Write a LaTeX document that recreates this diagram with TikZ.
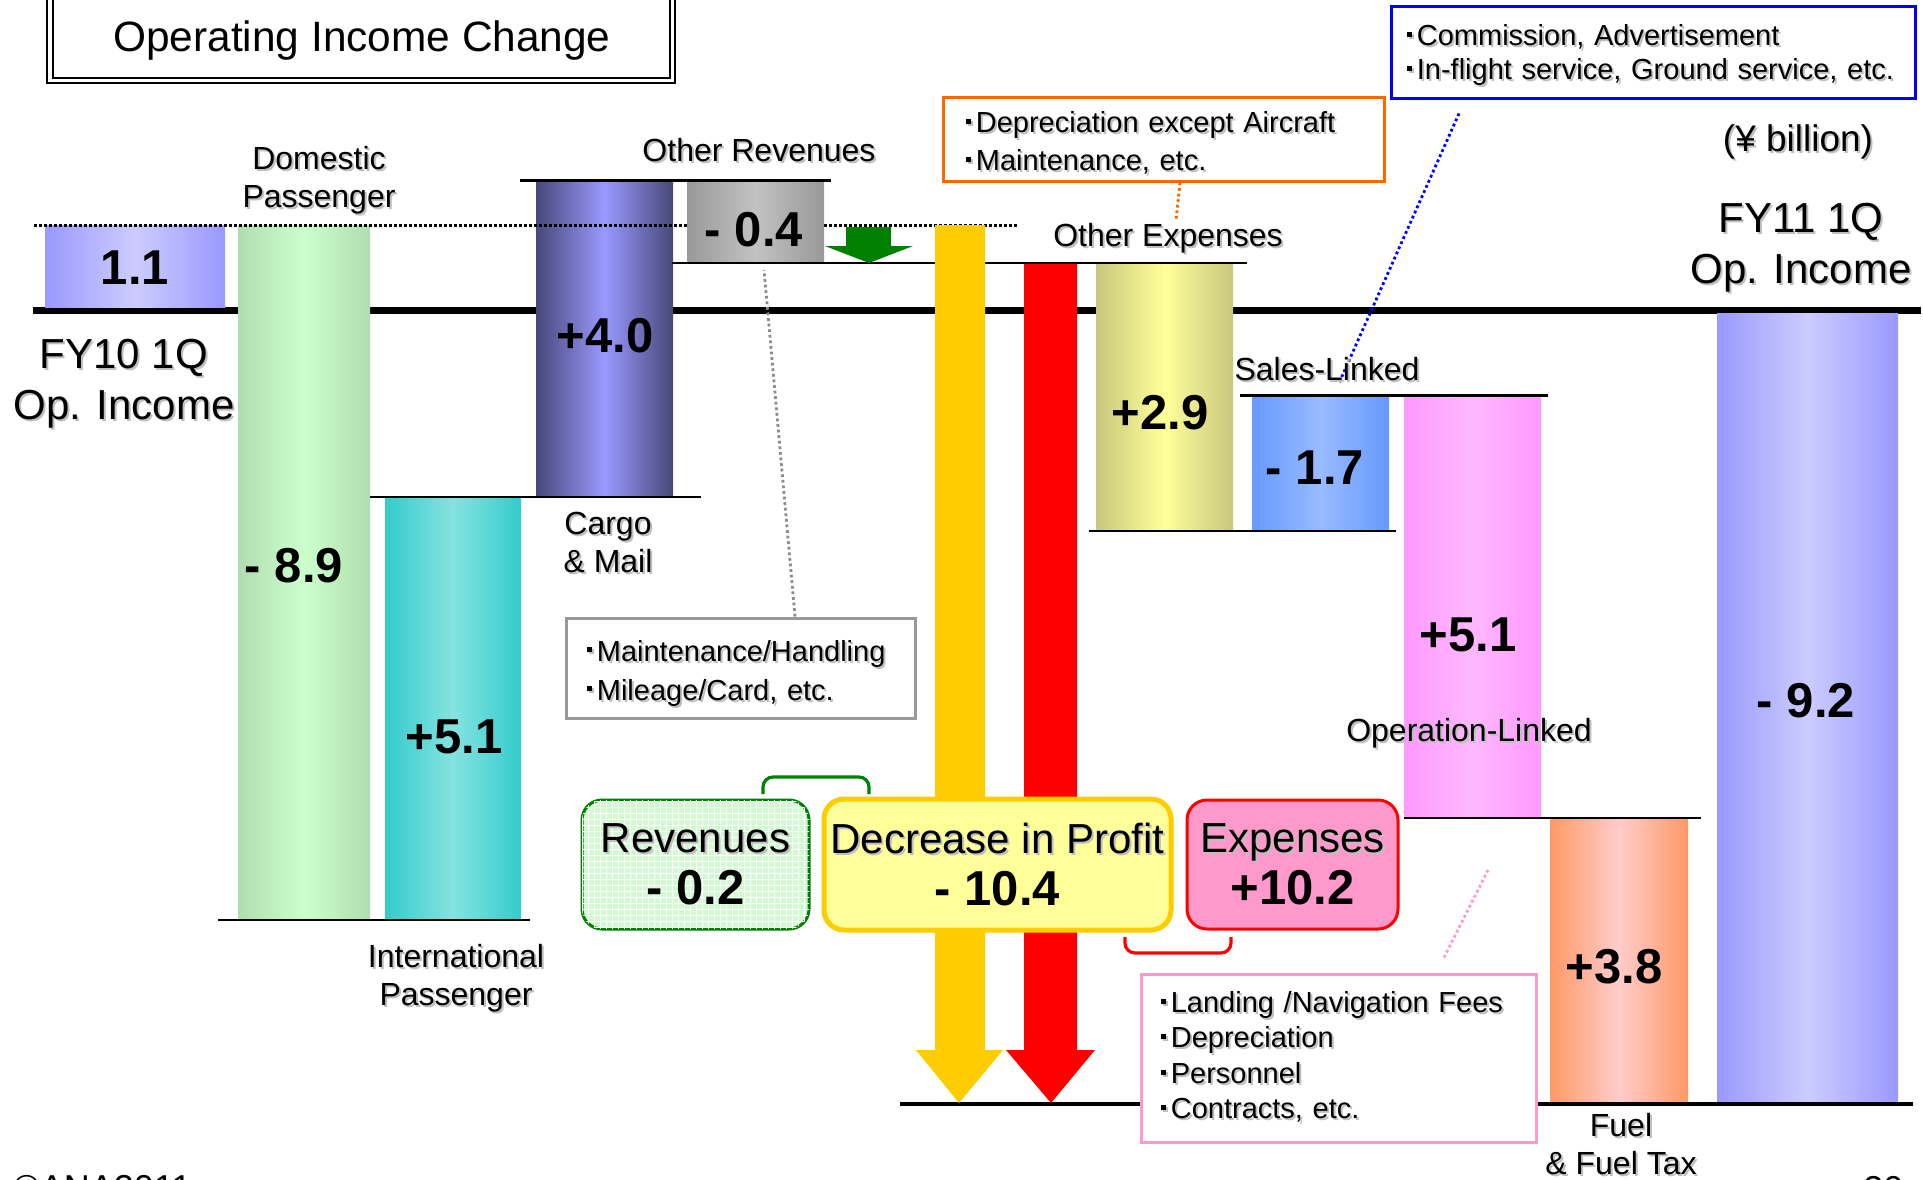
\documentclass[tikz,border=0pt]{standalone}
\usepackage{fontspec}
\setmainfont{Liberation Sans}
\usetikzlibrary{calc,patterns}
\newcommand\sh[1]{\leavevmode\rlap{\hspace{1pt}\raisebox{-1pt}{\textcolor{black!25}{#1}}}#1}
\newcommand\bul{\raisebox{0.3em}{\rule{0.17em}{0.17em}}\hspace{0.17em}}
\definecolor{fyE}{HTML}{9999FF}\definecolor{fyM}{HTML}{CCCCFF}
\definecolor{domE}{HTML}{B0DDB0}\definecolor{domM}{HTML}{CCFFCC}
\definecolor{intE}{HTML}{33CCCC}\definecolor{intM}{HTML}{85E3E0}
\definecolor{carE}{HTML}{48487A}\definecolor{carM}{HTML}{9999FF}
\definecolor{othE}{HTML}{999999}\definecolor{othM}{HTML}{C2C2C2}
\definecolor{oexE}{HTML}{C8C87E}\definecolor{oexM}{HTML}{FFFF99}
\definecolor{salE}{HTML}{6699FF}\definecolor{salM}{HTML}{99BBFF}
\definecolor{opE}{HTML}{FF99FF}\definecolor{opM}{HTML}{FFB8FF}
\definecolor{fuE}{HTML}{FF9966}\definecolor{fuM}{HTML}{FFCCCC}
\definecolor{yel}{HTML}{FFCC00}\definecolor{grn}{HTML}{008000}
\definecolor{orn}{HTML}{FF6600}\definecolor{pnk}{HTML}{FF99CC}
\definecolor{revfill}{HTML}{D2F9D2}\definecolor{decfill}{HTML}{FFFF99}
\begin{document}
\begin{tikzpicture}[x=0.5pt,y=-0.5pt,
  lbltxt/.style={font=\fontsize{16}{19}\selectfont,align=center,inner sep=0pt},
  bigtxt/.style={font=\fontsize{21}{25.5}\selectfont,align=center,inner sep=0pt},
  numtxt/.style={font=\fontsize{24.5}{28}\selectfont\bfseries,inner sep=0pt},
  notebox/.style={draw,line width=1.5pt,fill=white,align=left,inner ysep=0pt,font=\fontsize{14.5}{19}\selectfont},
  sumbox/.style={rounded corners=10pt,align=center,inner sep=0pt,font=\fontsize{21}{26}\selectfont},
  levline/.style={line width=1.25pt},
  conn/.style={line width=1.4pt,dash pattern=on 1.4pt off 1.4pt},
]
\useasboundingbox (0,0) rectangle (1923,1179);
\clip (0,0) rectangle (1923,1179);
\fill[white] (0,0) rectangle (1923,1179);

% title box
\draw[line width=1pt] (47,-10) rectangle (675,83);
\draw[line width=1pt] (53,-10) rectangle (670,78);
\node[font=\fontsize{21.2}{25}\selectfont,inner sep=0pt] (title) at (362,41) {Operating Income Change};

% main axis
\draw[line width=3.25pt] (33,310.5) -- (1921,310.5);

% bars
\shade[left color=fyE,right color=fyE,middle color=fyM] (45,225) rectangle (225,307);
\shade[left color=domE,right color=domE,middle color=domM] (238,225) rectangle (370,920);
\shade[left color=intE,right color=intE,middle color=intM] (385,497) rectangle (521,920);
\shade[left color=carE,right color=carE,middle color=carM] (536,180) rectangle (673,497);

% dotted reference line
\draw[line width=1.5pt,dash pattern=on 1.5pt off 1pt] (34,225.5) -- (1017,225.5);

\shade[left color=othE,right color=othE,middle color=othM] (687,181) rectangle (824,262);
\shade[left color=oexE,right color=oexE,middle color=oexM] (1096,263) rectangle (1233,530);
\shade[left color=salE,right color=salE,middle color=salM] (1252,396) rectangle (1389,530);
\shade[left color=opE,right color=opE,middle color=opM] (1404,396) rectangle (1541,818);
\shade[left color=fuE,right color=fuE,middle color=fuM] (1550,818) rectangle (1688,1104);
\shade[left color=fyE,right color=fyE,middle color=fyM] (1717,313) rectangle (1898,1104);

% level lines
\draw[levline] (218,920) -- (530,920);
\draw[levline] (370,497) -- (701,497);
\draw[levline] (520,180.5) -- (831,180.5);
\draw[levline] (672,263) -- (1247,263);
\draw[levline] (1089,531) -- (1396,531);
\draw[levline] (1240,395.5) -- (1548,395.5);
\draw[levline] (1404,818) -- (1701,818);
\draw[line width=1.7pt] (900,1104) -- (1913,1104);

% arrows
\fill[grn] (846,227) -- (891,227) -- (891,246) -- (913,246) -- (869,263) -- (825,246) -- (846,246) -- cycle;
\fill[yel] (935,225) -- (985,225) -- (985,1050) -- (1003,1050) -- (959,1103) -- (916,1050) -- (935,1050) -- cycle;
\fill[red] (1024,264) -- (1077,264) -- (1077,1050) -- (1095,1050) -- (1051,1103) -- (1006,1050) -- (1024,1050) -- cycle;

% summary boxes
\node[sumbox,draw=grn,line width=1.5pt,fill=revfill,postaction={pattern=grid,pattern color=white},minimum width=113.5pt,minimum height=64.5pt] (rev) at (695.5,864.5)
  {\sh{Revenues}\\{\fontsize{24.5}{28.5}\selectfont\bfseries - 0.2}};
\node[sumbox,draw=yel,line width=2.5pt,fill=decfill,minimum width=173.5pt,minimum height=65.5pt] (dec) at (997.5,864.5)
  {\sh{Decrease in Profit}\\{\fontsize{24.5}{28.5}\selectfont\bfseries - 10.4}};
\node[sumbox,draw=red,line width=1.5pt,fill=pnk,minimum width=105.5pt,minimum height=64.5pt] (exp) at (1292.5,864.5)
  {\sh{Expenses}\\{\fontsize{24.5}{28.5}\selectfont\bfseries +10.2}};

% brackets
\draw[grn,line width=1.6pt,rounded corners=5pt] (763,794) -- (763,777) -- (869,777) -- (869,794);
\draw[red,line width=1.6pt,rounded corners=5pt] (1125,937) -- (1125,953) -- (1231,953) -- (1231,937);

% note boxes
\node[notebox,draw=black!40,minimum width=174.5pt,minimum height=50pt,inner xsep=10.5pt,text width=153.5pt,font=\fontsize{14.5}{19.5}\selectfont] (graybox) at (740.5,668)
  {\rule{0pt}{16.6pt}\sh{\bul Maintenance/Handling}\\\sh{\bul Mileage/Card, etc.}};
\node[notebox,draw=orn,minimum width=220.5pt,minimum height=42pt,inner xsep=11.5pt,text width=197.5pt] (orgbox) at (1163.5,139)
  {\rule{0pt}{15.6pt}\sh{\bul Depreciation except Aircraft}\\\sh{\bul Maintenance, etc.}};
\node[notebox,draw=blue,minimum width=262pt,minimum height=46pt,inner xsep=8pt,text width=246pt,font=\fontsize{14.5}{17}\selectfont] (bluebox) at (1653,52)
  {\rule{0pt}{14.6pt}\sh{\bul Commission, Advertisement}\\\sh{\bul In-flight service, Ground service, etc.}};
\node[notebox,draw=pnk,minimum width=197.5pt,minimum height=84pt,inner xsep=10pt,text width=177.5pt,font=\fontsize{14.5}{17.7}\selectfont] (pinkbox) at (1338.5,1058)
  {\sh{\bul Landing /Navigation Fees}\\\sh{\bul Depreciation}\\\sh{\bul Personnel}\\\sh{\bul Contracts, etc.}};

% connectors
\coordinate (gend) at (764,270);
\coordinate (oend) at (1176,220);
\coordinate (bend) at (1339,383);
\coordinate (pend) at (1489,868);
\draw[conn,black!45] ($(graybox.north)+(54.5,0)$) -- (gend);
\draw[conn,orn] ($(orgbox.south)+(16.5,0)$) -- (oend);
\draw[conn,blue] ($(bluebox.south)+(-194,14)$) -- (bend);
\draw[conn,pnk] ($(pinkbox.north)+(105.5,-15)$) -- (pend);

% labels
\node[bigtxt] (fy10) at (124,385) {\sh{FY10 1Q}\\\sh{Op. Income}};
\node[bigtxt] (fy11) at (1801,249) {\sh{FY11 1Q}\\\sh{Op. Income}};
\node[font=\fontsize{18.5}{22}\selectfont,inner sep=0pt] (unit) at (1798,143) {\sh{(¥ billion)}};
\node[lbltxt] (ldom) at (319,181) {\sh{Domestic}\\\sh{Passenger}};
\node[lbltxt] (lint) at (456,979) {\sh{International}\\\sh{Passenger}};
\node[lbltxt] (lcar) at (608,543) {\sh{Cargo}\\\sh{\& Mail}};
\node[lbltxt] (loth) at (759,151) {\sh{Other Revenues}};
\node[lbltxt] (loex) at (1168,239) {\sh{Other Expenses}};
\node[lbltxt] (lsal) at (1327,370) {\sh{Sales-Linked}};
\node[lbltxt] (lop) at (1469,734) {\sh{Operation-Linked}};
\node[lbltxt] (lfu) at (1621,1145) {\sh{Fuel}\\\sh{\& Fuel Tax}};

% numbers
\node[numtxt] (n1) at (135,268) {1.1};
\node[numtxt] (n2) at (294,566) {- 8.9};
\node[numtxt] (n3) at (454,737) {+5.1};
\node[numtxt] (n4) at (605,336) {+4.0};
\node[numtxt] (n5) at (754,230) {- 0.4};
\node[numtxt] (n6) at (1160,413) {+2.9};
\node[numtxt] (n7) at (1315,468) {- 1.7};
\node[numtxt] (n8) at (1468,635) {+5.1};
\node[numtxt] (n9) at (1614,967) {+3.8};
\node[numtxt] (n10) at (1806,701) {- 9.2};

% footer (cut off)
\node[font=\fontsize{18}{20}\selectfont,inner sep=0pt,anchor=base west] (copy) at (13,1200) {©ANA2011};
\node[font=\fontsize{18}{20}\selectfont,inner sep=0pt,anchor=base west] (page) at (1863,1201) {20};
\end{tikzpicture}
\end{document}
